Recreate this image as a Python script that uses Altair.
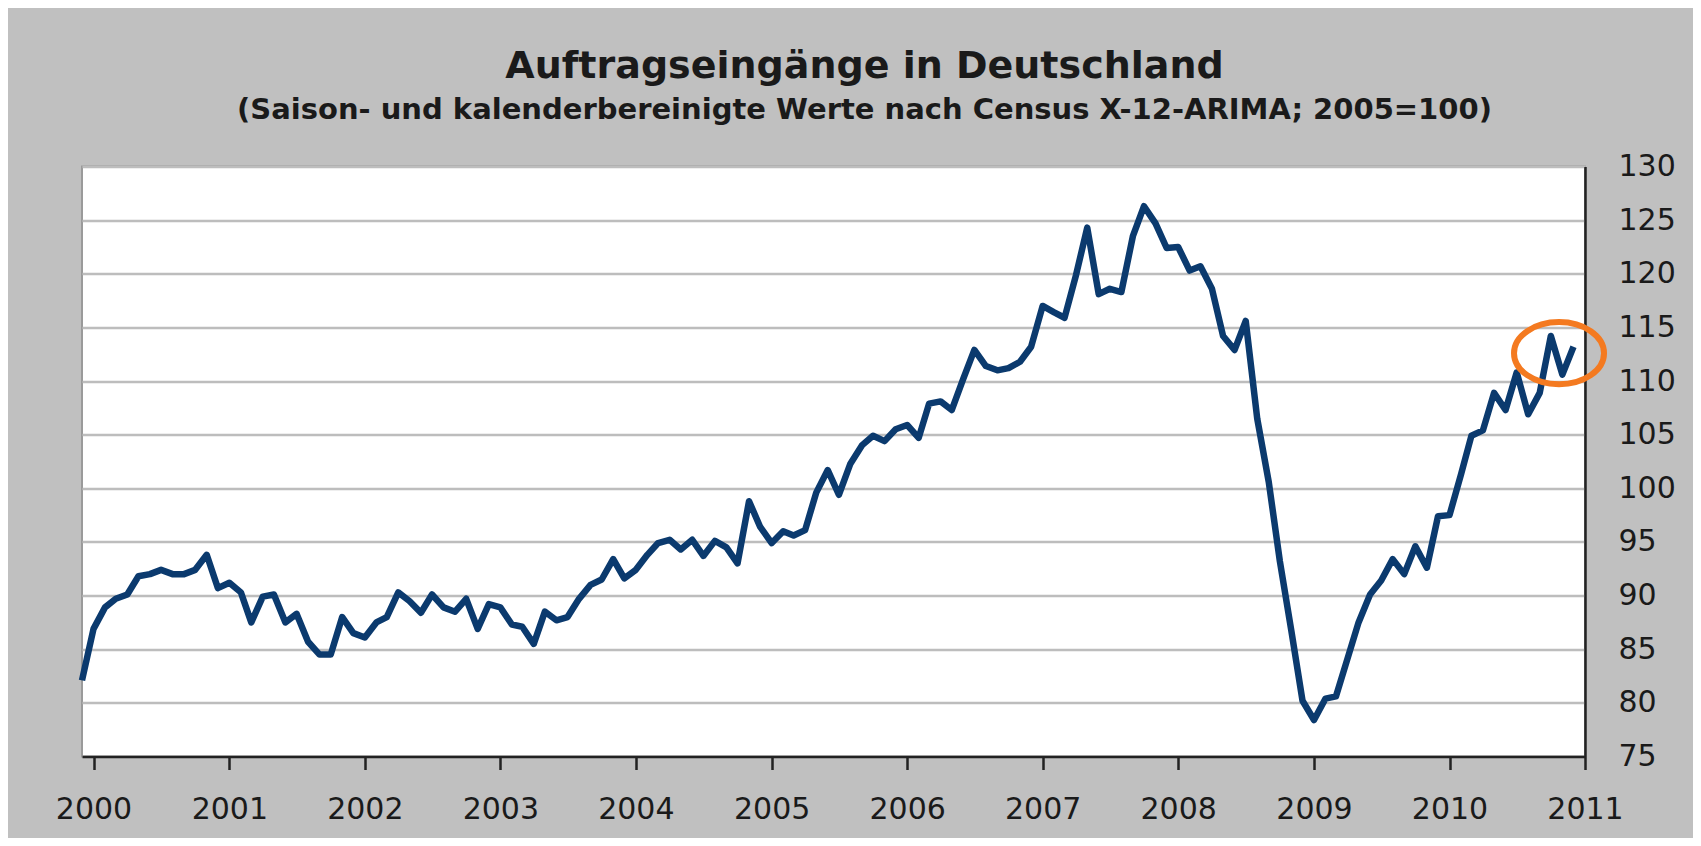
import altair as alt
import pandas as pd

# ---- data ----
start_month = "1999-12-01"
orders_index = [
    82.1, 86.9, 88.9, 89.7, 90.1, 91.8, 92.0, 92.4, 92.0, 92.0, 92.4, 93.8,
    90.7, 91.2, 90.3, 87.5, 89.9, 90.1, 87.5, 88.3, 85.7, 84.5, 84.5, 88.0,
    86.5, 86.1, 87.5, 88.0, 90.3, 89.5, 88.4, 90.1, 88.9, 88.5, 89.7, 86.9,
    89.2, 88.9, 87.3, 87.1, 85.5, 88.5, 87.7, 88.0, 89.7, 91.0, 91.5, 93.4,
    91.6, 92.4, 93.8, 94.9, 95.2, 94.3, 95.2, 93.7, 95.1, 94.5, 93.0, 98.8,
    96.4, 94.9, 96.0, 95.6, 96.1, 99.6, 101.7, 99.4, 102.3, 104.0, 104.9, 104.4,
    105.5, 105.9, 104.7, 107.9, 108.1, 107.3, 110.2, 112.9, 111.4, 111.0, 111.2, 111.8,
    113.2, 117.0, 116.4, 115.9, 119.9, 124.3, 118.1, 118.6, 118.3, 123.5, 126.3, 124.7,
    122.4, 122.5, 120.3, 120.7, 118.6, 114.2, 112.9, 115.6, 106.5, 100.6, 93.2, 86.7,
    80.2, 78.4, 80.4, 80.6, 84.1, 87.5, 90.1, 91.4, 93.4, 92.0, 94.6, 92.6,
    97.4, 97.5, 101.3, 104.9, 105.4, 108.9, 107.3, 110.8, 106.9, 108.9, 114.2, 110.6,
    113.2,
]
year_ticks = list(range(2000, 2012))
y_ticks = [75, 80, 85, 90, 95, 100, 105, 110, 115, 120, 125, 130]
title_text = "Auftragseingänge in Deutschland"
subtitle_text = "(Saison- und kalenderbereinigte Werte nach Census X-12-ARIMA; 2005=100)"
highlight_date = ["2010-10-23"]
highlight_value = [112.6]

months = pd.date_range(start_month, periods=len(orders_index), freq="MS").strftime("%Y-%m-%d")
df = pd.DataFrame({"date": list(months), "value": orders_index})
hl = pd.DataFrame({"date": highlight_date, "value": highlight_value})

FONT = "DejaVu Sans"
TXT = "#1a1a1a"
DARK = "#222222"

x_scale = alt.Scale(
    type="utc",
    domain=[alt.DateTime(year=1999, month=12, date=1, utc=True),
            alt.DateTime(year=2011, month=1, date=1, utc=True)],
)
y_scale = alt.Scale(domain=[75, 130], nice=False, zero=False)

x_axis = alt.Axis(
    values=[alt.DateTime(year=y, month=1, date=1, utc=True) for y in year_ticks],
    format="%Y", title=None, grid=False,
    labelFont=FONT, labelFontSize=30, labelColor=TXT, labelPadding=25,
    labelFlush=False, labelOverlap=False,
    tickSize=13, tickWidth=2.5, tickColor=DARK,
    domainColor=DARK, domainWidth=2.5,
)
y_axis = alt.Axis(
    orient="right", values=y_ticks, title=None,
    labelFont=FONT, labelFontSize=30, labelColor=TXT, labelPadding=33,
    labelFlush=False, ticks=False, tickSize=0,
    domainColor=DARK, domainWidth=2.5,
    grid=True, gridColor="#bdbdbd", gridWidth=2.5,
)

line = alt.Chart(df).mark_line(color="#0b3a6e", strokeWidth=6.5, strokeJoin="round").encode(
    x=alt.X("date:T", scale=x_scale, axis=x_axis),
    y=alt.Y("value:Q", scale=y_scale, axis=y_axis),
)

ellipse_path = ("M 1 0 C 1 0.381 0.552 0.69 0 0.69 C -0.552 0.69 -1 0.381 -1 0 "
                "C -1 -0.381 -0.552 -0.69 0 -0.69 C 0.552 -0.69 1 -0.381 1 0 Z")
ring = alt.Chart(hl).mark_point(
    shape=ellipse_path, size=8100, filled=False,
    stroke="#f47a20", strokeWidth=6, opacity=1,
).encode(
    x=alt.X("date:T", scale=x_scale),
    y=alt.Y("value:Q", scale=y_scale),
)

chart = alt.layer(line, ring).properties(
    width=1503,
    height=590,
    padding={"left": 74, "top": 158.5, "right": 108, "bottom": 81.5},
    autosize=alt.AutoSizeParams(type="none"),
    title=alt.TitleParams(
        text=title_text, subtitle=subtitle_text,
        font=FONT, fontSize=38, fontWeight="bold", color=TXT,
        subtitleFont=FONT, subtitleFontSize=29, subtitleFontWeight="bold",
        subtitleColor=TXT,
        anchor="middle", dx=31, offset=27, subtitlePadding=10,
    ),
).configure(
    background="#c0c0c0",
).configure_view(
    fill="white", stroke="#9a9a9a", strokeWidth=2,
)

chart.save("out.html", embed_options={"renderer": "svg", "actions": False})
